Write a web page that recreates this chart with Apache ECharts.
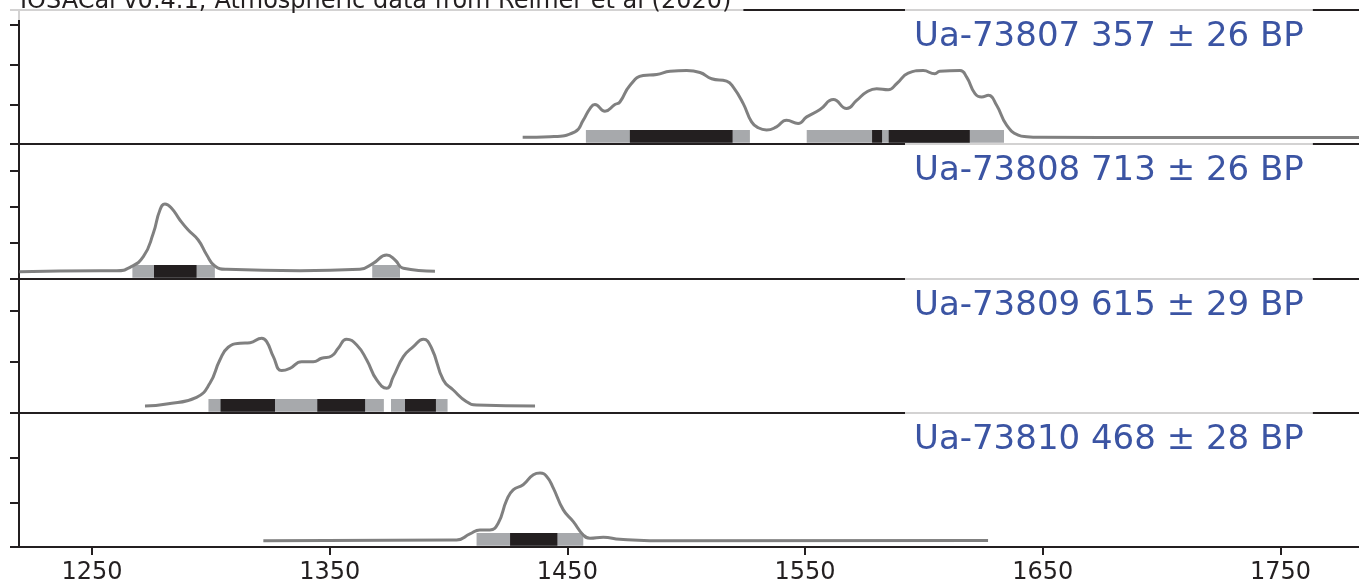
<!DOCTYPE html>
<html><head><meta charset="utf-8">
<script src="https://cdn.jsdelivr.net/npm/echarts@6/dist/echarts.min.js"></script>
<style>html,body{margin:0;padding:0;background:#fff}#c{width:1359px;height:585px}</style>
</head><body><div id="c"></div>
<script>
// ---------------- data ----------------
const headerText = 'IOSACal v0.4.1; Atmospheric data from Reimer et al (2020)';
const sampleLabels = ['Ua-73807 357 ± 26 BP', 'Ua-73808 713 ± 26 BP', 'Ua-73809 615 ± 29 BP', 'Ua-73810 468 ± 28 BP'];
const xTickValues = [1250, 1350, 1450, 1550, 1650, 1750];

// calibrated probability curves (calendar year AD, relative density)
const years1 = [1431.2, 1442.7, 1453.2, 1456.7, 1459.5, 1461.6, 1465.8, 1470.0, 1472.1, 1476.3, 1481.9, 1487.6, 1493.2, 1500.2, 1505.8, 1510.7, 1517.0, 1519.8, 1524.0, 1527.5, 1530.3, 1533.8, 1538.0, 1542.2, 1547.1, 1550.7, 1556.3, 1561.9, 1567.5, 1571.7, 1575.9, 1580.1, 1585.0, 1588.5, 1593.4, 1599.7, 1604.6, 1606.7, 1615.2, 1618.0, 1621.5, 1624.3, 1627.1, 1630.6, 1634.8, 1639.7, 1643.3, 1648.8, 1700, 1790];
const dens1  = [0.168, 0.183, 0.308, 0.6, 0.893, 0.993, 0.825, 0.993, 1.058, 1.475, 1.725, 1.75, 1.833, 1.85, 1.8, 1.643, 1.583, 1.433, 1.018, 0.558, 0.408, 0.35, 0.433, 0.6, 0.518, 0.683, 0.868, 1.118, 0.893, 1.1, 1.308, 1.393, 1.368, 1.518, 1.783, 1.85, 1.768, 1.833, 1.85, 1.683, 1.268, 1.183, 1.225, 0.975, 0.475, 0.225, 0.183, 0.168, 0.165, 0.163];

const years2 = [1219.5, 1253.4, 1260.4, 1266, 1271.6, 1275.8, 1278.6, 1280.7, 1283.5, 1287, 1290.5, 1294.7, 1298.3, 1301.7, 1306.7, 1337.5, 1362.7, 1368.3, 1374, 1377.5, 1381, 1394.3];
const dens2  = [0.203, 0.23, 0.23, 0.325, 0.619, 1.269, 1.917, 2.083, 1.964, 1.639, 1.361, 1.083, 0.667, 0.361, 0.269, 0.23, 0.269, 0.436, 0.667, 0.528, 0.297, 0.214];

const years3 = [1272.3, 1281.4, 1294, 1299.6, 1303.8, 1307.3, 1312.3, 1316.5, 1321.4, 1323.5, 1326.3, 1329.8, 1333.3, 1338.2, 1343.1, 1346.6, 1350.8, 1353.6, 1357.1, 1361.4, 1365.6, 1369.8, 1374, 1376.8, 1381, 1385.2, 1389.4, 1392.9, 1397.8, 1402, 1407.6, 1411.8, 1436.4];
const dens3  = [0.136, 0.175, 0.306, 0.579, 1.033, 1.281, 1.359, 1.37, 1.456, 1.39, 1.097, 0.826, 0.871, 1.0, 1.0, 1.066, 1.111, 1.261, 1.437, 1.326, 1.033, 0.643, 0.481, 0.708, 1.097, 1.292, 1.437, 1.261, 0.643, 0.448, 0.22, 0.156, 0.136];

const years4 = [1322.1, 1403.4, 1409, 1413.2, 1417.4, 1420.9, 1424.5, 1427.2, 1431.4, 1435.7, 1438.5, 1441.3, 1444.1, 1448.3, 1452.5, 1456.7, 1459.5, 1465.1, 1472.1, 1484.7, 1627];
const dens4  = [0.142, 0.157, 0.292, 0.382, 0.382, 0.533, 1.056, 1.281, 1.393, 1.618, 1.656, 1.58, 1.319, 0.831, 0.569, 0.27, 0.196, 0.218, 0.173, 0.142, 0.146];

// highest density ranges: 95.4% (grey) and 68.2% (black)
const range95_1 = [[1457.8, 1526.8], [1550.7, 1633.7]];
const range68_1 = [[1476.3, 1519.5], [1578.2, 1582.4], [1585.2, 1619.3]];
const range95_2 = [[1267, 1301.7], [1367.9, 1379.6]];
const range68_2 = [[1276.1, 1294]];
const range95_3 = [[1299, 1372.8], [1375.8, 1399.6]];
const range68_3 = [[1304.1, 1327], [1344.8, 1364.9], [1381.7, 1394.7]];
const range95_4 = [[1411.8, 1456.7]];
const range68_4 = [[1425.9, 1445.8]];

// ---------------- build ----------------
const FONT = 'DejaVu Sans';
const INK = '#231f20';
const GREY_BAR = '#a7a9ac';
const CURVE = '#808080';
const LABEL_BLUE = '#3b54a3';

const curves = [[years1, dens1], [years2, dens2], [years3, dens3], [years4, dens4]];
const ranges = [[range95_1, range68_1], [range95_2, range68_2], [range95_3, range68_3], [range95_4, range68_4]];

const panelLayout = [
  {top: 10, height: 134, ymax: 3.375},
  {top: 144, height: 135, ymax: 3.75},
  {top: 279, height: 134, ymax: 2.61},
  {top: 413, height: 134, ymax: 3.0}
];
const X_MIN = 1219.3, X_MAX = 1788.1;

const grids = [], xAxes = [], yAxes = [], series = [];
panelLayout.forEach((p, i) => {
  const last = i === panelLayout.length - 1;
  grids.push({left: 19, width: 1352, top: p.top, height: p.height, show: true,
    outerBoundsMode: 'none', containLabel: false,
    borderColor: INK, borderWidth: 2, backgroundColor: 'transparent'});
  xAxes.push({type: 'value', gridIndex: i, min: X_MIN, max: X_MAX,
    axisLine: {show: true, onZero: false, lineStyle: {color: INK, width: 2}},
    axisTick: {show: last, length: 8, lineStyle: {color: INK, width: 2}, customValues: xTickValues},
    axisLabel: {show: last, customValues: xTickValues, fontFamily: FONT, fontSize: 24, color: INK, margin: 14,
      formatter: v => String(Math.round(v))},
    splitLine: {show: false}});
  yAxes.push({type: 'value', gridIndex: i, min: 0, max: p.ymax, interval: 1,
    axisLine: {show: true, lineStyle: {color: INK, width: 2}},
    axisTick: {show: true, length: 9, lineStyle: {color: INK, width: 2}},
    axisLabel: {show: false}, splitLine: {show: false}});
  const bars = ranges[i][0].map(r => [r[0], r[1], 0]).concat(ranges[i][1].map(r => [r[0], r[1], 1]));
  series.push({type: 'custom', xAxisIndex: i, yAxisIndex: i, z: 1, silent: true,
    data: bars, encode: {x: [0, 1]},
    renderItem: function (params, api) {
      const s = api.coord([api.value(0), 0]);
      const e = api.coord([api.value(1), 0]);
      return {type: 'rect', shape: {x: s[0], y: s[1] - 14, width: e[0] - s[0], height: 12.7},
        style: {fill: api.value(2) === 1 ? INK : GREY_BAR}};
    }});
  const c = curves[i];
  series.push({type: 'line', xAxisIndex: i, yAxisIndex: i, z: 3, silent: true,
    data: c[0].map((x, k) => [x, c[1][k]]), showSymbol: false, symbol: 'none',
    smooth: 0.5,
    lineStyle: {color: CURVE, width: 3}});
});

const titles = [{text: headerText, left: 10, top: -16, padding: [6, 12, 6, 10],
  backgroundColor: 'rgba(255,255,255,0.8)',
  textStyle: {fontFamily: FONT, fontSize: 24, fontWeight: 'normal', color: INK, lineHeight: 24}}];
sampleLabels.forEach((t, i) => {
  titles.push({text: t, left: 905, top: panelLayout[i].top - 1, padding: [11, 9, 7, 9],
    backgroundColor: 'rgba(255,255,255,0.8)',
    textStyle: {fontFamily: FONT, fontSize: 34, fontWeight: 'normal', color: LABEL_BLUE, lineHeight: 34}});
});

const chart = echarts.init(document.getElementById('c'), null, {renderer: 'canvas'});
chart.setOption({
  animation: false,
  backgroundColor: '#fff',
  title: titles,
  grid: grids, xAxis: xAxes, yAxis: yAxes, series: series
});
</script>
</body></html>
